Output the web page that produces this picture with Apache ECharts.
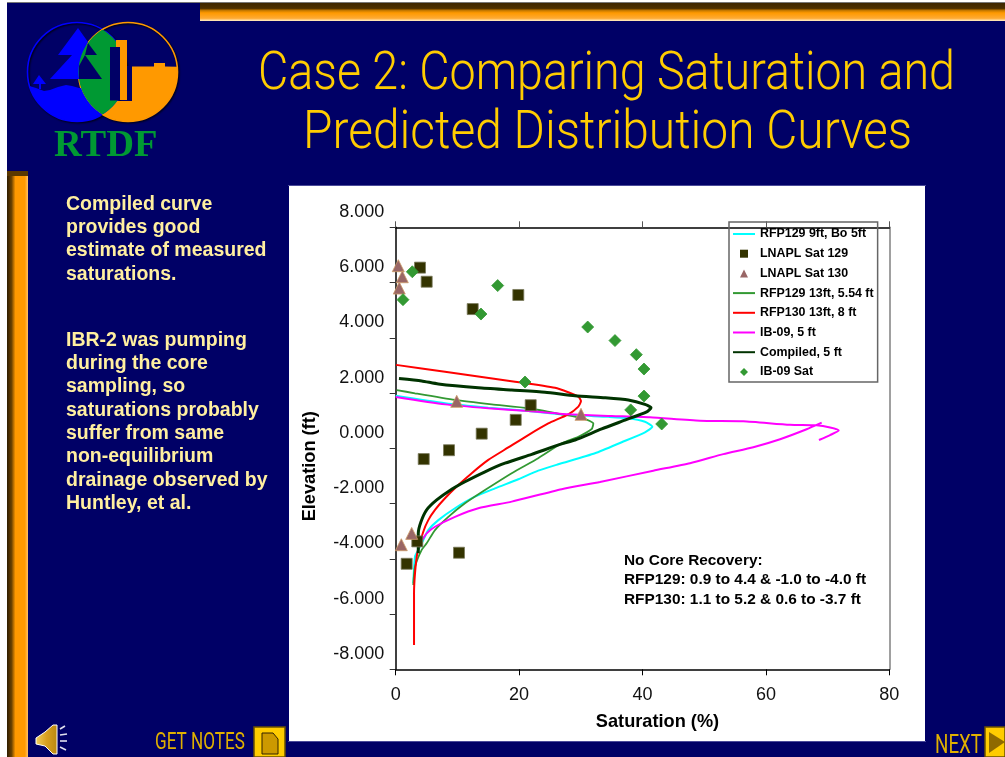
<!DOCTYPE html>
<html><head><meta charset="utf-8">
<style>html,body{margin:0;padding:0;background:#fff}#c{width:1005px;height:757px}</style>
<script src="https://cdn.jsdelivr.net/npm/echarts@6/dist/echarts.min.js"></script>
</head><body><div id="c"></div>
<script>
const xTickMin = 0, xTickMax = 80, yTickMin = -8, yTickMax = 8;
const lnapl129 = [[3.94,6.54],[5.02,6.03],[19.87,5.55],[12.48,5.04],[21.88,1.56],[19.45,1.03],[13.94,0.53],[8.64,-0.07],[4.54,-0.39],[3.5,-3.37],[10.26,-3.78],[1.78,-4.18]];
const lnapl130 = [[0.42,6.61],[1.07,6.21],[0.58,5.80],[9.89,1.70],[30.03,1.23],[2.59,-3.08],[0.91,-3.49]];
const ib09Sat = [[2.69,6.39],[1.18,5.38],[16.53,5.89],[13.82,4.86],[31.12,4.39],[35.54,3.90],[39.0,3.39],[40.24,2.87],[20.96,2.40],[40.24,1.89],[38.09,1.39],[43.11,0.88]];
const rfp130 = [[0.05,3.02],[7.99,2.77],[19.34,2.41],[25.82,2.19],[27.97,2.03],[29.6,1.87],[30.03,1.71],[29.6,1.51],[27.97,1.23],[24.73,0.90],[21.49,0.48],[18.25,0.03],[15.01,-0.42],[12.32,-0.90],[10.15,-1.33],[7.99,-1.81],[6.37,-2.23],[5.28,-2.60],[4.47,-3.02],[3.5,-3.80],[3.13,-4.52],[2.97,-5.25],[2.97,-7.12]];
const compiled = [[0.53,2.53],[4.21,2.44],[6.91,2.33],[13.39,2.19],[18.8,2.11],[24.2,2.03],[29.06,1.90],[33.92,1.83],[37.7,1.75],[40.4,1.59],[41.38,1.47],[40.68,1.32],[37.16,1.02],[33.39,0.70],[29.06,0.30],[26.9,0.16],[22.04,-0.22],[17.71,-0.54],[14.47,-0.85],[11.23,-1.21],[9.08,-1.48],[6.65,-1.87],[5.02,-2.23],[4.1,-2.66],[3.66,-3.08],[3.66,-3.50],[3.66,-3.80]];
const rfp129Bo = [[0,1.90],[8,1.63],[15,1.47],[21.49,1.35],[27.97,1.21],[34.46,1.14],[37.7,1.09],[40.4,0.96],[41.59,0.78],[40.4,0.58],[36.63,0.22],[32.3,-0.18],[26.35,-0.58],[23.1,-0.81],[19.87,-1.12],[16.09,-1.45],[12.85,-1.75],[9.61,-2.17],[6.91,-2.60],[5.28,-2.96],[4.47,-3.32],[3.66,-3.68],[3.13,-3.92],[2.85,-4.89]];
const rfp129 = [[0.16,2.11],[3.13,1.99],[9.61,1.75],[15.56,1.59],[21.49,1.45],[26.9,1.23],[30.68,1.06],[32.03,0.90],[31.77,0.70],[29.6,0.42],[26.9,0.18],[23.1,-0.36],[18.8,-0.90],[14.47,-1.51],[11.23,-1.99],[8.53,-2.48],[6.37,-2.96],[5.02,-3.44],[4.21,-3.68],[3.13,-4.29],[2.85,-4.95]];
const ib09Upper = [[0,1.86],[8,1.59],[15,1.45],[21.49,1.35],[27.97,1.23],[35,1.17],[41.2,1.12],[49.3,1.0],[56.34,0.98],[63.9,0.85],[68.2,0.83],[70.4,0.75],[71.8,0.64],[70.4,0.48],[68.6,0.30]];
const ib09Lower = [[69.04,0.93],[66.6,0.69],[62.3,0.33],[57.96,0.04],[53.1,-0.21],[47.7,-0.54],[41.75,-0.81],[33.1,-1.22],[26.9,-1.48],[18.8,-1.93],[13.39,-2.17],[9.61,-2.48],[6.37,-2.84],[5.02,-3.08],[4.3,-3.32]];
const seriesNames = ['RFP129 9ft, Bo 5ft','LNAPL Sat 129','LNAPL Sat 130','RFP129 13ft, 5.54 ft','RFP130 13ft, 8 ft','IB-09, 5 ft','Compiled, 5 ft','IB-09 Sat'];
const sideText = ['Compiled curve','provides good','estimate of measured','saturations.','','IBR-2 was pumping','during the core','sampling, so','saturations probably','suffer from same','non-equilibrium','drainage observed by','Huntley, et al.'];
const noteText = ['No Core Recovery:','RFP129: 0.9 to 4.4 & -1.0 to -4.0 ft','RFP130: 1.1 to 5.2 & 0.6 to -3.7 ft'];
const titleLines = ['Case 2: Comparing Saturation and','Predicted Distribution Curves'];

const FONT = '"Liberation Sans", Arial, sans-serif';
const THIN = '300 54px Roboto, "Liberation Sans", sans-serif';
const navy = '#000066', orange = '#FF9900', gold = '#FFCC00', green = '#009933', blue = '#0000FF';
const grad = (x2, y2, stops) => ({type:'linear',x:0,y:0,x2,y2,colorStops:stops.map(s=>({offset:s[0],color:s[1]}))});
const Z = -20;
const rect = (x,y,w,h,fill,extra) => Object.assign({type:'rect',silent:true,z:Z,shape:{x,y,width:w,height:h},style:{fill}},extra||{});
let zc = Z + 1;
const poly = (points,fill,style) => ({type:'polygon',silent:true,z:++zc,shape:{points},style:Object.assign({fill},style||{})});
const text = (t,x,y,font,fill) => ({type:'text',silent:true,z:5,x,y,style:{text:t,font,fill,verticalAlign:'middle'}});
const measureCtx = document.createElement('canvas').getContext('2d');
const fitText = (t,x,y,w,font,fill) => { measureCtx.font=font; const s=w/measureCtx.measureText(t).width; return {type:'text',silent:true,z:5,x,y,scaleX:s,style:{text:t,font,fill,verticalAlign:'middle'}}; };
const arc = (cx,cy,r,a0,a1,n=24) => Array.from({length:n+1},(_,i)=>{const a=(a0+(a1-a0)*i/n)*Math.PI/180;return [cx+r*Math.cos(a),cy+r*Math.sin(a)];});
const C1=[77,72,49.5], C2=[128,72,49.5];
const ringShadow = {fill:'none',lineWidth:1.6,shadowBlur:2,shadowColor:'#000',shadowOffsetX:1,shadowOffsetY:1};

const graphics = [
  rect(0,0,1005,2,'#ffffff'), rect(0,0,7,757,'#ffffff'), rect(7,2,998,1,'#777777'),
  rect(200,3,805,18,grad(0,1,[[0,'#3d2600'],[0.3,'#4d3000'],[0.42,'#c87a00'],[0.55,orange],[0.85,'#FFAA33'],[1,'#FFEFCC']])),
  rect(7,171,21,586,grad(1,0,[[0,'#2e1c00'],[0.22,'#6b4200'],[0.4,orange],[0.85,orange],[1,'#FFC266']])),
  rect(7,171,21,5,'#5a3800'),
  rect(289,186,636,555,'#ffffff'),
  rect(288,185,638,1,'#4a4a99'), rect(288,741,638,1,'#4a4a99'),
  // logo
  {type:'circle',silent:true,z:++zc,shape:{cx:C1[0],cy:C1[1],r:C1[2]},style:Object.assign({stroke:blue},ringShadow)},
  {type:'circle',silent:true,z:++zc,shape:{cx:C2[0],cy:C2[1],r:C2[2]},style:Object.assign({stroke:orange},ringShadow)},
  poly([[29.5,86],[36,88],[44,91],[50,90],[58,87],[66,85],[72,86],[79,88],...arc(...C2,161,120.7),...arc(...C1,59.3,163.6)],blue),
  poly([[78,28],[88,42],[82,55],[79,79],[50,79],[72,55],[58,55]],blue),
  poly([[39,75],[46,84],[41,84],[41,89],[39,89],[39,84],[33,84]],blue),
  poly([...arc(...C2,-6,120.7),...arc(...C1,59.3,36,8),[132,101],[132,66.5],[154,66.5],[154,63],[165,63],[165,66.5]],orange),
  poly([...arc(...C1,-59.3,59.3),...arc(...C2,120.7,239.3)],green),
  poly([[85,55],[102,79],[79,79],[79,66]],navy),
  poly([[88,43],[97,55],[85,55]],navy),
  poly([[116,40],[127,40],[127,100],[116,100]],orange),
  poly([[110,47],[120,47],[120,100.5],[110,100.5]],navy),
  poly([[127,66],[132,66],[132,101],[127,101]],navy),
  {type:'text',silent:true,z:5,x:54,y:146,style:{text:'RTDF',font:'bold 38.5px "Liberation Serif", serif',fill:green,verticalAlign:'middle',shadowBlur:2,shadowColor:'#000',shadowOffsetX:2,shadowOffsetY:2}},
  // bottom controls
  poly([[36,738],[45,732],[53,725],[57,725],[57,754],[53,754],[45,746],[36,744]],grad(1,0,[[0,'#F0D060'],[0.5,'#D8A020'],[1,'#B88810']]),{stroke:'#fff',lineWidth:1}),
  ...[[[60,729],[65,726]],[[60,735],[67,734]],[[60,741],[67,741]],[[60,747],[66,750]]].map(p=>({type:'polyline',silent:true,z:++zc,shape:{points:p},style:{stroke:'#e0e0ee',lineWidth:1.6,fill:'none'}})),
  fitText('GET NOTES',155,743,90,'24px Roboto, sans-serif','#E0B000'),
  rect(254,727,31,30,gold,{z:++zc,style:{fill:gold,stroke:'#6b5200',lineWidth:1.5}}),
  poly([[262,733],[273,733],[278,739],[278,754],[262,754]],'#CC9900',{stroke:'#332200',lineWidth:1}),
  fitText('NEXT',935,746,47,'26px Roboto, sans-serif','#E0B000'),
  rect(985,727,20,30,gold,{z:++zc,style:{fill:gold,stroke:'#6b5200',lineWidth:1.5}}),
  poly([[989,732],[1005,742],[989,753]],'#8f6a00'),
  fitText(titleLines[0],258,75,697,THIN,gold),
  fitText(titleLines[1],303,134,609,THIN,gold),
  ...sideText.map((t,i)=>text(t,66,204.5+i*23.3+(i>4?19.5:0),'bold 19.5px '+FONT,'#FFEFA0')),
  ...noteText.map((t,i)=>text(t,624,560.5+i*19.6,'bold 15.4px '+FONT,'#000'))
];

const lineIcon = 'path://M0 0H22V2H0Z';
const squareIcon = 'path://M0 0H8V8H0Z';
const triangleIcon = 'path://M4 0L8 8H0Z';
const diamondIcon = 'path://M4 0L8 4L4 8L0 4Z';
const legendIcons = [lineIcon,squareIcon,triangleIcon,lineIcon,lineIcon,lineIcon,lineIcon,diamondIcon];

const lineSeries = (name,data,color,width,z) => ({name,type:'line',data,showSymbol:false,symbol:'none',smooth:0.2,connectNulls:false,z,clip:false,lineStyle:{color,width},itemStyle:{color}});
const scatterSeries = (name,data,symbol,size,color,border) => ({name,type:'scatter',data,symbol,symbolSize:size,z:10,itemStyle:{color,borderColor:border,borderWidth:0.8,opacity:1}});

const chart = echarts.init(document.getElementById('c'),null,{renderer:'canvas',width:1005,height:757});
chart.setOption({
  animation:false,
  backgroundColor:navy,
  textStyle:{fontFamily:FONT},
  grid:{left:395.7,top:227.3,width:493.6,height:442,containLabel:false},
  xAxis:[
    {type:'value',position:'bottom',min:xTickMin,max:xTickMax,interval:20,splitLine:{show:false},
     axisLine:{onZero:false,lineStyle:{color:'#000',width:1.5}},axisTick:{length:6,lineStyle:{color:'#000',width:1}},
     axisLabel:{color:'#111',fontSize:18,margin:16.5,fontFamily:FONT},
     name:'Saturation (%)',nameLocation:'middle',nameGap:44,nameTextStyle:{color:'#000',fontSize:18.2,fontWeight:'bold',fontFamily:FONT,padding:[0,0,0,30]}},
    {type:'value',position:'top',min:xTickMin,max:xTickMax,interval:20,splitLine:{show:false},
     axisLine:{onZero:false,lineStyle:{color:'#000',width:1.5}},axisTick:{length:6,lineStyle:{color:'#555',width:1}},axisLabel:{show:false}}
  ],
  yAxis:[
    {type:'value',position:'left',min:yTickMin,max:yTickMax,interval:2,splitLine:{show:false},
     axisLine:{onZero:false,lineStyle:{color:'#000',width:1.5}},axisTick:{length:6,lineStyle:{color:'#333',width:1}},
     axisLabel:{color:'#111',fontSize:18,margin:11.5,fontFamily:FONT,verticalAlign:'bottom',lineHeight:31,formatter:v=>v.toFixed(3)},
     name:'Elevation (ft)',nameLocation:'middle',nameGap:77,nameTextStyle:{color:'#000',fontSize:18.2,fontWeight:'bold',fontFamily:FONT,padding:[0,36,0,0]}},
    {type:'value',position:'right',min:yTickMin,max:yTickMax,interval:2,splitLine:{show:false},
     axisLine:{onZero:false,lineStyle:{color:'#808080',width:1.5}},axisTick:{show:false},axisLabel:{show:false}}
  ],
  legend:{
    orient:'vertical',left:729,top:222,itemWidth:22,itemHeight:8,itemGap:7.7,
    padding:[6,4,4,4],borderColor:'#666',borderWidth:1.5,backgroundColor:'transparent',
    textStyle:{color:'#000',fontSize:12.4,fontWeight:'bold',fontFamily:FONT},
    data:seriesNames.map((name,i)=>({name,icon:legendIcons[i],itemStyle:{borderWidth:0}}))
  },
  series:[
    lineSeries(seriesNames[0],rfp129Bo,'#00FFFF',2,3),
    scatterSeries(seriesNames[1],lnapl129,'rect',11,'#333300','#7a7a5c'),
    scatterSeries(seriesNames[2],lnapl130,'triangle',12,'#996666','#CC9966'),
    lineSeries(seriesNames[3],rfp129,'#339933',1.8,4),
    lineSeries(seriesNames[4],rfp130,'#FF0000',2,5),
    lineSeries(seriesNames[5],[...ib09Upper,[null,null],...ib09Lower],'#FF00FF',2,6),
    lineSeries(seriesNames[6],compiled,'#003300',3,7),
    scatterSeries(seriesNames[7],ib09Sat,'diamond',12,'#339933','#339933')
  ],
  graphic:{elements:graphics}
});
</script></body></html>
